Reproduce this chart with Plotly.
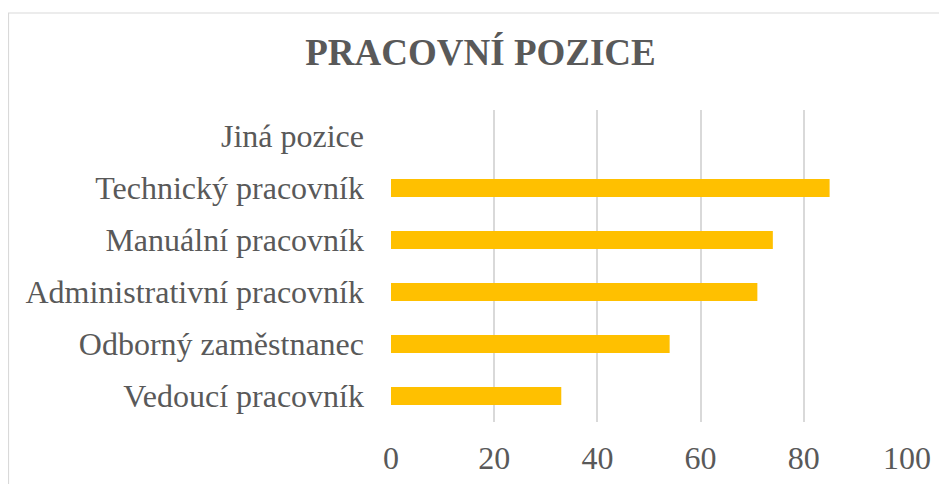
import plotly.graph_objects as go

categories = ["Vedoucí pracovník", "Odborný zaměstnanec", "Administrativní pracovník",
              "Manuální pracovník", "Technický pracovník", "Jiná pozice"]
values = [33, 54, 71, 74, 85, 0]
x_ticks = [0, 20, 40, 60, 80, 100]

# page has an 8px body margin; figure is sized/offset to compensate
OFF = 8
W, H = 947 - OFF, 484 - OFF
L, R, T, B = 391 - OFF, 40, 110 - OFF, 62
pw, ph = W - L - R, H - T - B

def px_x(p):
    return (p - L) / pw

def px_y(p):
    return (H - B - p) / ph

fig = go.Figure(go.Bar(
    y=categories, x=values, orientation="h",
    marker=dict(color="#FFC000", line=dict(width=0)),
))

font_family = "Liberation Serif, Times New Roman, serif"
fig.update_layout(
    width=W, height=H,
    margin=dict(l=L, r=R, t=T, b=B, autoexpand=False),
    paper_bgcolor="white", plot_bgcolor="white",
    bargap=0.65,
    showlegend=False,
    title=dict(text="<b>PRACOVNÍ POZICE</b>", xref="container", x=(480.5 - OFF) / W,
               xanchor="center", yref="container", y=1 - (52 - OFF) / H, yanchor="middle",
               font=dict(family=font_family, size=37, color="#595959")),
    font=dict(family=font_family, color="#595959"),
    xaxis=dict(range=[0, 100], tickvals=x_ticks, showgrid=True, gridcolor="#D9D9D9",
               gridwidth=1.5, zeroline=False, showline=False, automargin=False,
               ticks="", ticklabelstandoff=14,
               tickfont=dict(family=font_family, size=32, color="#595959")),
    yaxis=dict(categoryorder="array", categoryarray=categories, showgrid=False,
               zeroline=False, showline=False, ticks="", ticklabelstandoff=26,
               automargin=False,
               tickfont=dict(family=font_family, size=32, color="#595959")),
    shapes=[dict(type="rect", xref="paper", yref="paper",
                 x0=px_x(0.5), x1=px_x(W - 1), y0=px_y(H + 20), y1=px_y(13 - OFF),
                 line=dict(color="#D9D9D9", width=1.2), fillcolor="rgba(0,0,0,0)",
                 layer="below")],
)

fig.write_html("out.html")
